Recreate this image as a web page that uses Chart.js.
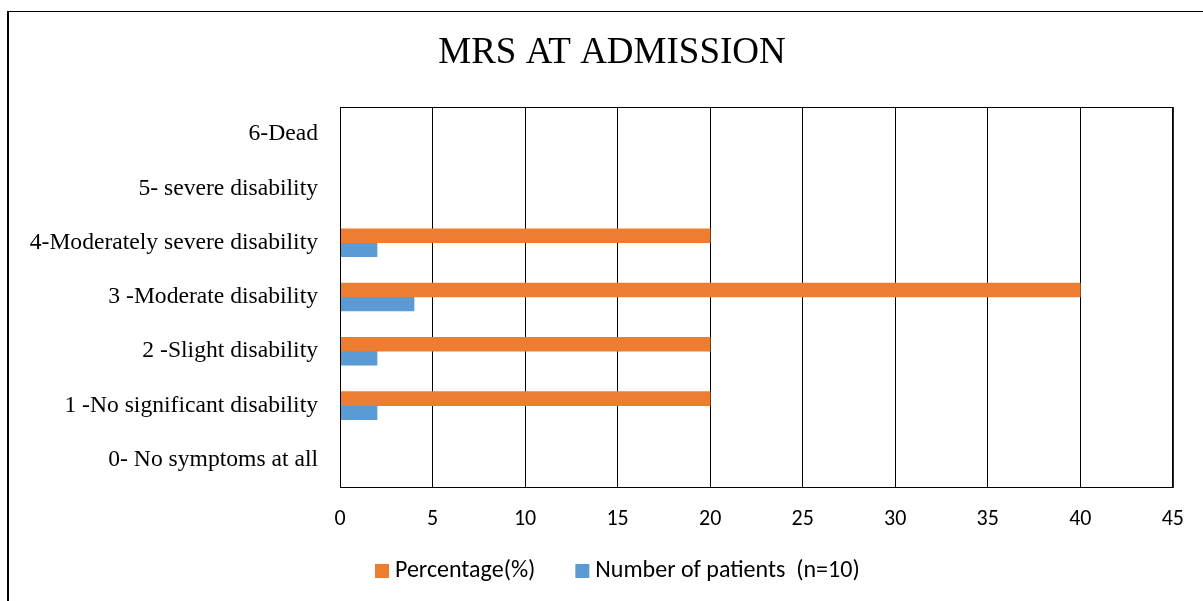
<!DOCTYPE html>
<html>
<head>
<meta charset="utf-8">
<script src="https://cdn.jsdelivr.net/npm/chart.js@4.4.1/dist/chart.umd.min.js"></script>
<style>
  html, body { margin: 0; padding: 0; background: #fff; }
  #wrap { position: relative; width: 1203px; height: 601px; overflow: hidden; }
  #frame { position: absolute; left: 7px; top: 11px; width: 1300px; height: 700px;
           border-left: 2px solid #000; border-top: 1px solid #000; }
  #chart { position: absolute; left: 0; top: 0; }
</style>
</head>
<body>
<div id="wrap">
  <div id="frame"></div>
  <canvas id="chart" width="1203" height="601"></canvas>
</div>
<script>
// ── data ──
const chartTitle = 'MRS AT ADMISSION';
const categories = [
  '6-Dead',
  '5- severe disability',
  '4-Moderately severe disability',
  '3 -Moderate disability',
  '2 -Slight disability',
  '1 -No significant disability',
  '0- No symptoms at all'
];
const percentage = [0, 0, 20, 40, 20, 20, 0];
const patients = [0, 0, 2, 4, 2, 2, 0];
const xTicks = [0, 5, 10, 15, 20, 25, 30, 35, 40, 45];

const ORANGE = '#ED7D31';
const BLUE = '#5B9BD5';
const SANS = "Carlito, 'Liberation Sans Narrow', 'DejaVu Sans Condensed', sans-serif";
const SERIF = "'Liberation Serif', 'Times New Roman', serif";

// box round the plot area
const plotBorder = {
  id: 'plotBorder',
  afterDraw(chart) {
    const { ctx, chartArea: a } = chart;
    ctx.save();
    ctx.strokeStyle = '#000';
    ctx.lineWidth = 1;
    ctx.strokeRect(a.left + 0.5, a.top + 0.5, a.right - a.left, a.bottom - a.top);
    ctx.restore();
  }
};

// title sits centred on the whole frame, not the canvas
const frameTitle = {
  id: 'frameTitle',
  afterDraw(chart) {
    const ctx = chart.ctx;
    ctx.save();
    ctx.font = '37px ' + SERIF;
    ctx.fillStyle = '#000';
    ctx.textAlign = 'center';
    ctx.textBaseline = 'middle';
    ctx.fillText(chartTitle, 612, 53);
    ctx.restore();
  }
};

// excel style legend under the axis
const bottomLegend = {
  id: 'bottomLegend',
  afterDraw(chart) {
    const ctx = chart.ctx;
    let x = 375;
    const y = 571;
    ctx.save();
    ctx.font = '24px ' + SANS;
    ctx.textBaseline = 'middle';
    chart.data.datasets.forEach(ds => {
      ctx.fillStyle = ds.backgroundColor;
      ctx.fillRect(x, y - 7, 14, 14);
      x += 20;
      ctx.fillStyle = '#000';
      ctx.fillText(ds.label, x, y);
      x += ctx.measureText(ds.label).width + 40;
    });
    ctx.restore();
  }
};

new Chart(document.getElementById('chart'), {
  type: 'bar',
  data: {
    labels: categories,
    datasets: [
      { label: 'Percentage(%)', data: percentage, backgroundColor: ORANGE, barThickness: 14 },
      { label: 'Number of patients  (n=10)', data: patients, backgroundColor: BLUE, barThickness: 14 }
    ]
  },
  options: {
    indexAxis: 'y',
    responsive: false,
    animation: false,
    layout: { padding: { left: 10, right: 29, top: 107, bottom: 0 } },
    plugins: {
      legend: { display: false },
      tooltip: { enabled: false },
      title: { display: false }
    },
    scales: {
      x: {
        min: 0,
        max: 45,
        afterBuildTicks: s => { s.ticks = xTicks.map(v => ({ value: v })); },
        afterFit: s => { s.height = 114; },
        ticks: { color: '#000', font: { family: SANS, size: 22 }, padding: 19 },
        grid: { color: '#000', lineWidth: 1, drawTicks: false },
        border: { color: '#000', width: 1 }
      },
      y: {
        afterFit: s => { s.width = 330; },
        ticks: { color: '#000', font: { family: SERIF, size: 23.6 }, padding: 22 },
        grid: { display: false, drawTicks: false },
        border: { color: '#000', width: 1 }
      }
    }
  },
  plugins: [plotBorder, frameTitle, bottomLegend]
});
</script>
</body>
</html>
